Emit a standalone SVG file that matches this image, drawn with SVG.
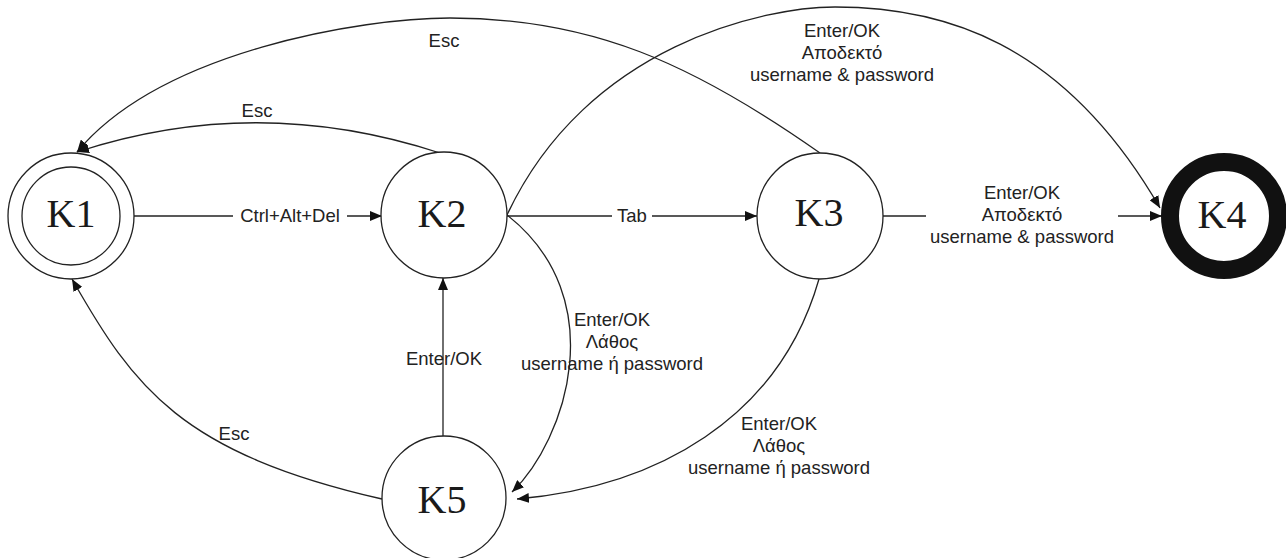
<svg xmlns="http://www.w3.org/2000/svg" width="1286" height="558" viewBox="0 0 1286 558">
  <defs>
    <style>
      .node { fill: #ffffff; stroke: #222222; stroke-width: 1.3; }
      .k4 { fill: #ffffff; stroke: #111111; stroke-width: 18; }
      .nlabel { font-family: "Liberation Serif", "Times New Roman", serif; font-size: 40px; fill: #1a1a1a; text-anchor: middle; }
      .edge { fill: none; stroke: #222222; stroke-width: 1.3; }
      .elabel { font-family: "Liberation Sans", Arial, sans-serif; font-size: 18.5px; fill: #222222; text-anchor: middle; }
    </style>
    <marker id="arrow" viewBox="0 0 12 10" refX="12" refY="5" markerWidth="12" markerHeight="10" markerUnits="userSpaceOnUse" orient="auto">
      <path d="M0,0 L12,5 L0,10 z" fill="#111111"/>
    </marker>
  </defs>

  <g id="connectors">
    <!-- K1 -> K2 Ctrl+Alt+Del -->
    <line class="edge" x1="134" y1="216" x2="233" y2="216"/>
    <line class="edge" x1="347" y1="216" x2="382" y2="216" marker-end="url(#arrow)"/>
    <!-- K2 -> K3 Tab -->
    <line class="edge" x1="507" y1="216" x2="612" y2="216"/>
    <line class="edge" x1="652" y1="216" x2="757" y2="216" marker-end="url(#arrow)"/>
    <!-- K3 -> K4 -->
    <line class="edge" x1="883" y1="216" x2="926" y2="216"/>
    <line class="edge" x1="1118" y1="216" x2="1162" y2="216" marker-end="url(#arrow)"/>
    <!-- K2 -> K4 arc -->
    <path class="edge" d="M507,215 C587,44 766,7 835,7 C940,7 1062,39 1160,208" marker-end="url(#arrow)"/>
    <!-- K3 -> K1 Esc -->
    <path class="edge" d="M820,153 C692,63 591,18 450,18 C362,18 161,51 77,152" marker-end="url(#arrow)"/>
    <!-- K2 -> K1 Esc -->
    <path class="edge" d="M440,153 Q257,93 77,152" marker-end="url(#arrow)"/>
    <!-- K5 -> K1 Esc -->
    <path class="edge" d="M382,499 C181,453 134,388 72,279" marker-end="url(#arrow)"/>
    <!-- K5 -> K2 Enter/OK -->
    <line class="edge" x1="443" y1="436" x2="443" y2="278" marker-end="url(#arrow)"/>
    <!-- K2 -> K5 -->
    <path class="edge" d="M507,215 C613,298 566,440 512,492" marker-end="url(#arrow)"/>
    <!-- K3 -> K5 -->
    <path class="edge" d="M819,279 C779,419 656,487 517,499" marker-end="url(#arrow)"/>

    <!-- labels -->
    <text class="elabel" x="290" y="222">Ctrl+Alt+Del</text>
    <text class="elabel" x="632" y="222">Tab</text>
    <text class="elabel" x="1022" y="199">Enter/OK</text>
    <text class="elabel" x="1022" y="221">Αποδεκτό</text>
    <text class="elabel" x="1022" y="243">username &amp; password</text>
    <text class="elabel" x="842" y="37">Enter/OK</text>
    <text class="elabel" x="842" y="59">Αποδεκτό</text>
    <text class="elabel" x="842" y="81">username &amp; password</text>
    <text class="elabel" x="444" y="47">Esc</text>
    <text class="elabel" x="257" y="117">Esc</text>
    <text class="elabel" x="234" y="440">Esc</text>
    <text class="elabel" x="444" y="365">Enter/OK</text>
    <text class="elabel" x="612" y="326">Enter/OK</text>
    <text class="elabel" x="612" y="348">Λάθος</text>
    <text class="elabel" x="612" y="370">username ή password</text>
    <text class="elabel" x="779" y="430">Enter/OK</text>
    <text class="elabel" x="779" y="452">Λάθος</text>
    <text class="elabel" x="779" y="474">username ή password</text>
  </g>

  <g id="K1">
    <circle class="node" cx="71" cy="216" r="63"/>
    <circle class="node" cx="71" cy="216" r="49"/>
    <text class="nlabel" x="71" y="227">K1</text>
  </g>
  <g id="K2">
    <circle class="node" cx="444" cy="215" r="63"/>
    <text class="nlabel" x="442" y="227">K2</text>
  </g>
  <g id="K3">
    <circle class="node" cx="820" cy="216" r="63"/>
    <text class="nlabel" x="819" y="226">K3</text>
  </g>
  <g id="K4">
    <circle class="k4" cx="1224" cy="216" r="54"/>
    <text class="nlabel" x="1222" y="228">K4</text>
  </g>
  <g id="K5">
    <circle class="node" cx="444" cy="498" r="62"/>
    <text class="nlabel" x="442" y="513">K5</text>
  </g>
</svg>
